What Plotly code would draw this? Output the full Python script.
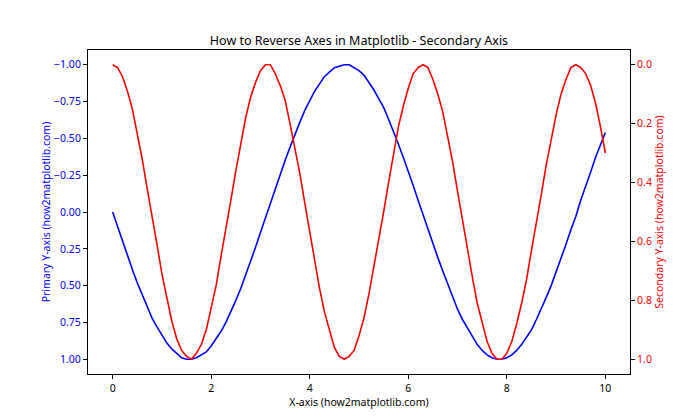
"""
Reversed primary and secondary y axes, matplotlib-style.
"""

import plotly.graph_objects as go

x_values = [
    0.0, 0.1, 0.2, 0.3, 0.4, 0.5, 0.6, 0.7, 0.8, 0.9,
    1.0, 1.1, 1.2, 1.3, 1.4, 1.5, 1.6, 1.7, 1.8, 1.9,
    2.0, 2.1, 2.2, 2.3, 2.4, 2.5, 2.6, 2.7, 2.8, 2.9,
    3.0, 3.1, 3.2, 3.3, 3.4, 3.5, 3.6, 3.7, 3.8, 3.9,
    4.0, 4.1, 4.2, 4.3, 4.4, 4.5, 4.6, 4.7, 4.8, 4.9,
    5.0, 5.1, 5.2, 5.3, 5.4, 5.5, 5.6, 5.7, 5.8, 5.9,
    6.0, 6.1, 6.2, 6.3, 6.4, 6.5, 6.6, 6.7, 6.8, 6.9,
    7.0, 7.1, 7.2, 7.3, 7.4, 7.5, 7.6, 7.7, 7.8, 7.9,
    8.0, 8.1, 8.2, 8.3, 8.4, 8.5, 8.6, 8.7, 8.8, 8.9,
    9.0, 9.1, 9.2, 9.3, 9.4, 9.5, 9.6, 9.7, 9.8, 9.9,
    10.0,
]

# blue curve (primary axis)
primary_values = [
    0.00, 0.10, 0.20, 0.30, 0.39, 0.48, 0.56, 0.64, 0.72, 0.78,
    0.84, 0.89, 0.93, 0.96, 0.99, 1.00, 1.00, 0.99, 0.97, 0.95,
    0.91, 0.86, 0.81, 0.75, 0.68, 0.60, 0.52, 0.43, 0.33, 0.24,
    0.14, 0.04, -0.06, -0.16, -0.26, -0.35, -0.44, -0.53, -0.61, -0.69,
    -0.76, -0.82, -0.87, -0.92, -0.95, -0.98, -0.99, -1.00, -1.00, -0.98,
    -0.96, -0.93, -0.88, -0.83, -0.77, -0.71, -0.63, -0.55, -0.46, -0.37,
    -0.28, -0.18, -0.08, 0.02, 0.12, 0.22, 0.31, 0.40, 0.49, 0.58,
    0.66, 0.73, 0.79, 0.85, 0.90, 0.94, 0.97, 0.99, 1.00, 1.00,
    0.99, 0.97, 0.94, 0.90, 0.85, 0.80, 0.73, 0.66, 0.58, 0.50,
    0.41, 0.32, 0.22, 0.12, 0.03, -0.08, -0.17, -0.27, -0.37, -0.46,
    -0.54,
]

# red curve (secondary axis)
secondary_values = [
    0.00, 0.01, 0.04, 0.09, 0.15, 0.23, 0.32, 0.42, 0.51, 0.61,
    0.71, 0.79, 0.87, 0.93, 0.97, 0.99, 1.00, 0.98, 0.95, 0.90,
    0.83, 0.75, 0.65, 0.56, 0.46, 0.36, 0.27, 0.18, 0.11, 0.06,
    0.02, 0.00, 0.00, 0.03, 0.07, 0.12, 0.20, 0.28, 0.37, 0.47,
    0.57, 0.67, 0.76, 0.84, 0.90, 0.96, 0.99, 1.00, 0.99, 0.97,
    0.92, 0.86, 0.78, 0.69, 0.60, 0.50, 0.40, 0.30, 0.21, 0.14,
    0.08, 0.03, 0.01, 0.00, 0.01, 0.05, 0.10, 0.16, 0.24, 0.33,
    0.43, 0.53, 0.63, 0.72, 0.81, 0.88, 0.94, 0.98, 1.00, 1.00,
    0.98, 0.94, 0.88, 0.81, 0.73, 0.63, 0.54, 0.44, 0.34, 0.25,
    0.17, 0.10, 0.05, 0.01, 0.00, 0.01, 0.03, 0.07, 0.13, 0.21,
    0.30,
]

x_ticks = [0, 2, 4, 6, 8, 10]
primary_ticks = [-1.00, -0.75, -0.50, -0.25, 0.00, 0.25, 0.50, 0.75, 1.00]
secondary_ticks = [0.0, 0.2, 0.4, 0.6, 0.8, 1.0]

FONT = "Noto Sans"
BLUE = "#0000ff"
RED = "#ff0000"

fig = go.Figure()
fig.add_trace(
    go.Scatter(
        x=x_values,
        y=primary_values,
        mode="lines",
        line=dict(color=BLUE, width=1.6),
        yaxis="y",
        showlegend=False,
    )
)
fig.add_trace(
    go.Scatter(
        x=x_values,
        y=secondary_values,
        mode="lines",
        line=dict(color=RED, width=1.6),
        yaxis="y2",
        showlegend=False,
    )
)

axis_common = dict(
    showgrid=False,
    zeroline=False,
    showline=True,
    linecolor="black",
    linewidth=1,
    ticks="outside",
    ticklen=4,
    tickcolor="black",
    tickwidth=1,
    automargin=False,
)

fig.update_layout(
    width=700,
    height=420,
    paper_bgcolor="white",
    plot_bgcolor="white",
    font=dict(family=FONT, size=10.5, color="black"),
    margin=dict(l=88, r=70, t=50, b=46),
    title=dict(
        text="How to Reverse Axes in Matplotlib - Secondary Axis",
        x=0.5,
        xref="paper",
        xanchor="center",
        y=1 - 41 / 420,
        yref="container",
        yanchor="middle",
        font=dict(family=FONT, size=12.5, color="black"),
    ),
    xaxis=dict(
        **axis_common,
        mirror=True,
        range=[-0.5, 10.5],
        tickvals=x_ticks,
        tickfont=dict(size=10.5, color="black"),
        title=dict(text="X-axis (how2matplotlib.com)", font=dict(size=10.5), standoff=3),
    ),
    yaxis=dict(
        **axis_common,
        range=[1.1, -1.1],
        tickvals=primary_ticks,
        tickformat=".2f",
        tickfont=dict(size=10.5, color=BLUE),
        title=dict(
            text="Primary Y-axis (how2matplotlib.com)",
            font=dict(size=10.5, color=BLUE),
            standoff=1,
        ),
    ),
    yaxis2=dict(
        **axis_common,
        overlaying="y",
        side="right",
        range=[1.05, -0.05],
        tickvals=secondary_ticks,
        tickformat=".1f",
        tickfont=dict(size=10.5, color=RED),
        title=dict(
            text="Secondary Y-axis (how2matplotlib.com)",
            font=dict(size=10.5, color=RED),
            standoff=4,
        ),
    ),
)

# the page body has a default 8px margin; drop it so the figure sits at 0,0
fig.write_html(
    "out.html",
    config={"displayModeBar": False},
    post_script="document.body.style.margin='0';",
)
